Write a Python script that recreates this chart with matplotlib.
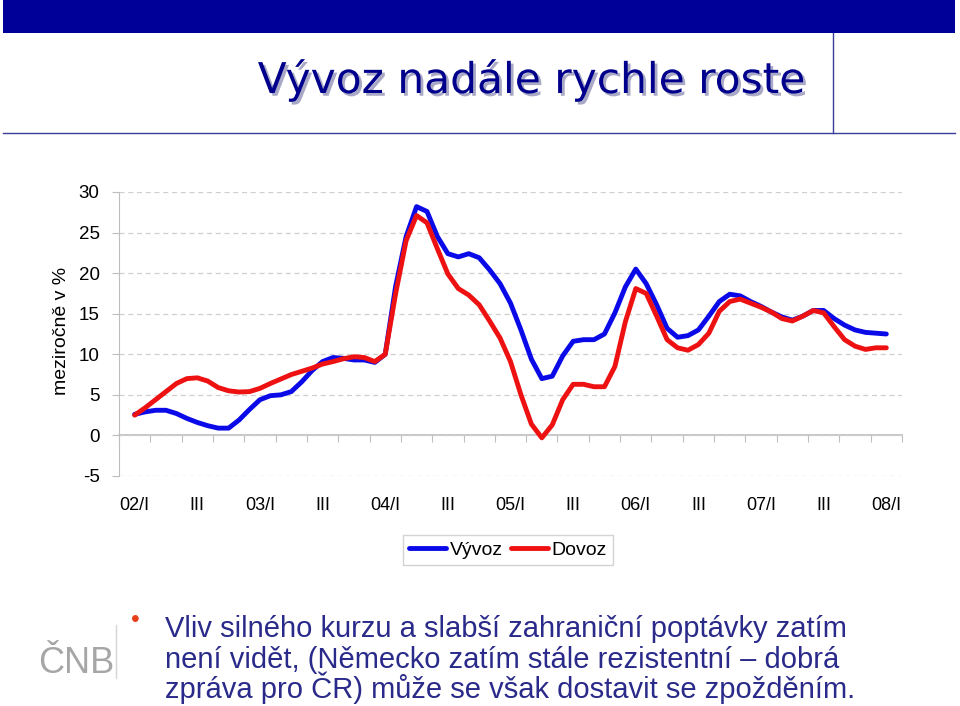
import matplotlib

matplotlib.use("Agg")
import matplotlib.patheffects as pe
import matplotlib.pyplot as plt
import numpy as np
from matplotlib.lines import Line2D
from matplotlib.patches import Rectangle

plt.rcParams["font.family"] = ["Liberation Sans", "DejaVu Sans"]
plt.rcParams["axes.unicode_minus"] = False

# monthly index, 0 = 2002/I ... 72 = 2008/I
months = np.arange(73)

vyvoz = [2.6, 2.9, 3.1, 3.1, 2.7, 2.1, 1.6, 1.2, 0.9, 0.9,
         1.9, 3.2, 4.4, 4.9, 5.0, 5.4, 6.6, 8.0, 9.1, 9.6,
         9.5, 9.3, 9.3, 9.0, 10.0, 18.4, 24.5, 28.2, 27.6, 24.5,
         22.4, 22.0, 22.4, 21.9, 20.4, 18.7, 16.3, 13.0, 9.4, 7.0,
         7.3, 9.8, 11.6, 11.8, 11.8, 12.5, 15.1, 18.3, 20.5, 18.7,
         16.1, 13.2, 12.1, 12.3, 13.0, 14.7, 16.5, 17.4, 17.2, 16.5,
         15.9, 15.2, 14.6, 14.2, 14.7, 15.4, 15.4, 14.4, 13.6, 13.0,
         12.7, 12.6, 12.5]

dovoz = [2.5, 3.4, 4.4, 5.4, 6.4, 7.0, 7.1, 6.7, 5.9, 5.5,
         5.35, 5.4, 5.8, 6.4, 6.95, 7.5, 7.9, 8.3, 8.8, 9.1,
         9.45, 9.7, 9.6, 9.1, 10.0, 17.5, 24.0, 27.1, 26.2, 23.0,
         19.9, 18.1, 17.3, 16.1, 14.1, 12.0, 9.1, 5.0, 1.4, -0.3,
         1.3, 4.4, 6.3, 6.3, 6.0, 6.0, 8.5, 14.0, 18.1, 17.5,
         14.7, 11.8, 10.8, 10.5, 11.2, 12.6, 15.3, 16.5, 16.8, 16.3,
         15.8, 15.2, 14.4, 14.1, 14.7, 15.4, 15.1, 13.4, 11.8, 11.0,
         10.6, 10.8, 10.8]

label_months = np.arange(0, 73, 6)
tick_labels = ["02/I", "III", "03/I", "III", "04/I", "III", "05/I",
               "III", "06/I", "III", "07/I", "III", "08/I"]
y_ticks = [-5, 0, 5, 10, 15, 20, 25, 30]

title = "Vývoz nadále rychle roste"
ylabel = "meziročně v %"
bullet_lines = [
    "Vliv silného kurzu a slabší zahraniční poptávky zatím",
    "není vidět, (Německo zatím stále rezistentní – dobrá",
    "zpráva pro ČR) může se však dostavit se zpožděním.",
]

W, H = 960, 706
navy = "#000099"
grey = "#BEBEBE"

fig = plt.figure(figsize=(W / 100, H / 100), dpi=100)

# slide decoration
fig.add_artist(Rectangle((3 / W, 1 - 33 / H), 952 / W, 33 / H,
                         transform=fig.transFigure, color=navy, lw=0))
fig.add_artist(Line2D([3 / W, 955 / W], [1 - 133 / H] * 2,
                      transform=fig.transFigure, color="#3D3D9E", lw=1))
fig.add_artist(Line2D([833 / W] * 2, [1 - 33 / H, 1 - 133 / H],
                      transform=fig.transFigure, color="#3D3D9E", lw=1))

fig.text(532 / W, 1 - 93 / H, title, ha="center", va="baseline",
         fontsize=30.5, color="#00008C", family="DejaVu Sans",
         path_effects=[pe.SimplePatchShadow(offset=(2, -2), shadow_rgbFace="#A9A9C6", alpha=1),
                       pe.Normal()])

# chart
ax = fig.add_axes([119 / W, 1 - 476 / H, 783 / W, 284 / H])
ax.set_xlim(-1.5, 73.5)
ax.set_ylim(-5, 30)
ax.set_yticks(y_ticks)
ax.yaxis.grid(True, color="#CFCFCF", linestyle=(0, (4, 3)), lw=0.9)
ax.set_axisbelow(True)
for side in ["top", "right", "bottom"]:
    ax.spines[side].set_visible(False)
ax.spines["left"].set_color(grey)
ax.tick_params(axis="y", direction="out", length=5, color=grey, labelsize=13.5, pad=9)
ax.set_xticks(label_months)
ax.set_xticklabels(tick_labels)
ax.tick_params(axis="x", length=0, labelsize=13, pad=15)

# category axis crossing at zero
zero_axis = ax.secondary_xaxis(5 / 35)
zero_axis.set_xticks(np.arange(-1.5, 74, 3))
zero_axis.tick_params(axis="x", direction="out", length=5, color=grey, labelbottom=False)
zero_axis.spines["bottom"].set_color(grey)
zero_axis.spines["bottom"].set_linewidth(1.2)

ax.plot(months, vyvoz, color="#0A0AE8", lw=3.5, label="Vývoz",
        solid_joinstyle="round", solid_capstyle="round")
ax.plot(months, dovoz, color="#EE1111", lw=3.5, label="Dovoz",
        solid_joinstyle="round", solid_capstyle="round")

fig.text(62 / W, 1 - 331 / H, ylabel, rotation=90, ha="center", va="center", fontsize=14)

leg = fig.legend(loc="center", bbox_to_anchor=(508 / W, 1 - 550 / H), ncol=2, fontsize=14,
                 frameon=True, fancybox=False, edgecolor="#C8C8C8", handlelength=1.9,
                 handletextpad=0.2, columnspacing=0.4, borderpad=0.3, borderaxespad=0)
leg.get_frame().set_linewidth(1)

# logo and bullet text
fig.text(76 / W, 1 - 673 / H, "ČNB", ha="center", va="baseline", fontsize=26,
         color="#A6A6A6")
fig.add_artist(Line2D([116 / W] * 2, [1 - 625 / H, 1 - 678 / H],
                      transform=fig.transFigure, color="#D5D5D5", lw=1))
fig.text(135 / W, 1 - 620 / H, "•", ha="center", va="center", fontsize=18, color="#E8401C")
for i, line in enumerate(bullet_lines):
    fig.text(165 / W, 1 - (637 + 30.5 * i) / H, line, ha="left", va="baseline",
             fontsize=21, color="#2A2A8A")

fig.savefig("out.png", dpi=100)
